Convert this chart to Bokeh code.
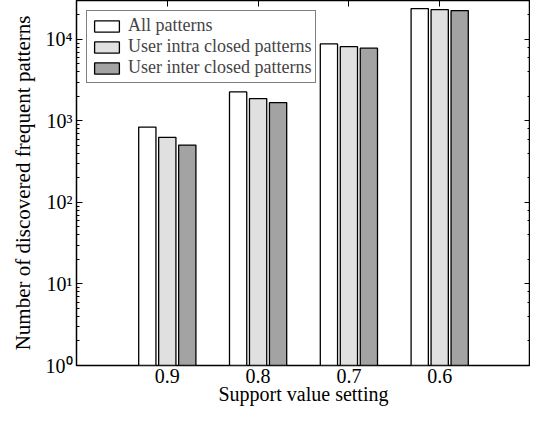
from bokeh.plotting import figure
from bokeh.models import (LogAxis, LinearAxis, FixedTicker, Range1d, Legend, LegendItem,
                          CustomJSTickFormatter, ColumnDataSource)
from bokeh.embed import file_html
from bokeh.resources import INLINE

# ---- data ----
categories = ["0.9", "0.8", "0.7", "0.6"]
all_patterns = [840, 2270, 8800, 23900]
intra_closed = [630, 1880, 8150, 23200]
inter_closed = [505, 1680, 7800, 22600]
series_names = ["All patterns", "User intra closed patterns", "User inter closed patterns"]

FONT = "Liberation Serif"
xpos = [i + 1 for i in range(len(categories))]
offsets = [-0.22, 0.0, 0.22]
fills = ["#ffffff", "#e0e0e0", "#a2a3a2"]
bar_w = 0.19

p = figure(width=530, height=407, y_axis_type="log",
           x_range=Range1d(0, len(categories) + 1), y_range=Range1d(1, 3e4),
           output_backend="svg", toolbar_location=None,
           min_border_left=76, min_border_right=0, min_border_top=0, min_border_bottom=0)
p.xgrid.visible = False
p.ygrid.visible = False
p.outline_line_color = "black"
p.outline_line_width = 1.5
p.background_fill_color = "white"
p.border_fill_color = "white"

renderers = []
for vals, off, col in zip([all_patterns, intra_closed, inter_closed], offsets, fills):
    src = ColumnDataSource(dict(x=[x + off for x in xpos], top=vals, bottom=[1] * len(vals)))
    r = p.vbar(x="x", top="top", bottom="bottom", width=bar_w, source=src,
               fill_color=col, line_color="black", line_width=1.3)
    renderers.append(r)

sup = CustomJSTickFormatter(code="""
const s = {"0":"\u2070","1":"\u00b9","2":"\u00b2","3":"\u00b3","4":"\u2074","5":"\u2075"};
const e = Math.round(Math.log10(tick));
return "10" + s[String(e)];
""")
blank = CustomJSTickFormatter(code="return '';")

# bottom x axis
xa = p.xaxis[0]
xa.ticker = FixedTicker(ticks=xpos)
xa.major_label_overrides = {x: c for x, c in zip(xpos, categories)}
xa.axis_label = "Support value setting"
xa.major_tick_in = 0
xa.major_tick_out = 0
xa.minor_tick_in = 0
xa.minor_tick_out = 0
xa.axis_line_color = None

# left y axis
ya = p.yaxis[0]
ya.formatter = sup
ya.axis_label = "Number of discovered frequent patterns"
ya.major_tick_in = 6
ya.major_tick_out = 0
ya.minor_tick_in = 3
ya.minor_tick_out = 0
ya.axis_line_color = None

for ax in (xa, ya):
    ax.major_label_text_font = FONT
    ax.major_label_text_font_size = "20px"
    ax.major_label_text_color = "black"
    ax.axis_label_text_font = FONT
    ax.axis_label_text_font_style = "normal"
    ax.axis_label_text_color = "black"
    ax.major_tick_line_color = "black"
    ax.minor_tick_line_color = "black"
xa.axis_label_text_font_size = "20px"
ya.axis_label_text_font_size = "21px"
xa.major_label_standoff = 3
xa.axis_label_standoff = -3
ya.major_label_standoff = 4
ya.axis_label_standoff = 8

# right axis (ticks only)
ra = LogAxis(formatter=blank, major_tick_in=6, major_tick_out=0,
             minor_tick_in=3, minor_tick_out=0, axis_line_color=None,
             major_label_standoff=0)
p.add_layout(ra, "right")
# top axis (ticks only)
ta = LinearAxis(ticker=FixedTicker(ticks=xpos), formatter=blank,
                major_tick_in=6, major_tick_out=0, minor_tick_in=0, minor_tick_out=0,
                axis_line_color=None, major_label_standoff=0)
p.add_layout(ta, "above")

legend = Legend(items=[LegendItem(label=n, renderers=[r]) for n, r in zip(series_names, renderers)],
                location="top_left")
legend.label_text_font = FONT
legend.label_text_font_size = "18px"
legend.label_text_line_height = 0.9
legend.label_height = 14
legend.glyph_height = 14
legend.glyph_width = 31
legend.spacing = 0
legend.padding = 4
legend.margin = 10
legend.label_standoff = 6
legend.border_line_color = "black"
legend.border_line_width = 1.3
legend.background_fill_alpha = 1.0
p.add_layout(legend)

open("out.html", "w").write(file_html(p, INLINE))
